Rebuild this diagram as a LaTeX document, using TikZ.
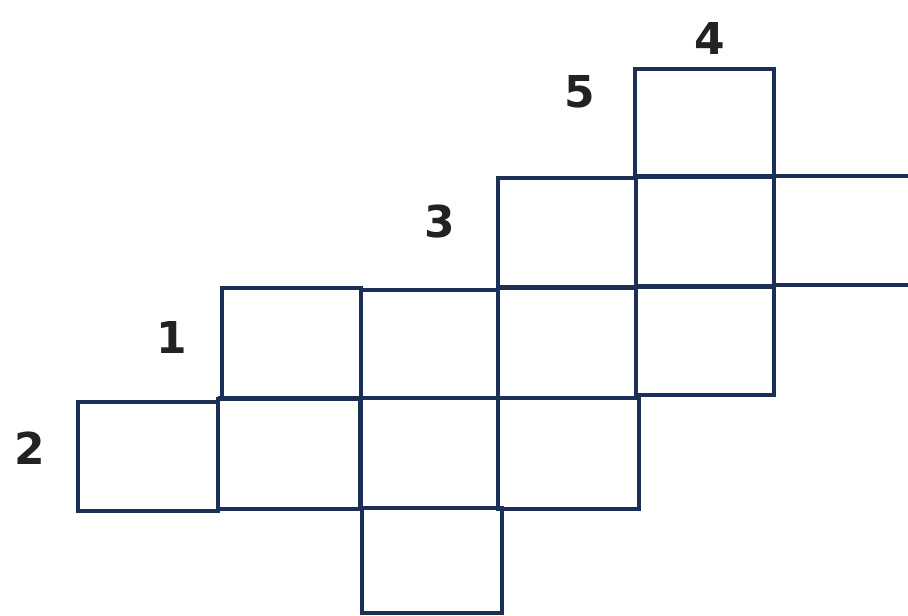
\documentclass[tikz,border=0pt]{standalone}
\usepackage{fontspec}
\setmainfont{DejaVu Sans}
\usepackage{xcolor}
\definecolor{gridblue}{HTML}{1B2F57}
\definecolor{numgray}{HTML}{222222}

\begin{document}
\begin{tikzpicture}[x=0.02cm,y=-0.02cm,
    cellbox/.style={draw=gridblue,line width=1.8pt},
    sharededge/.style={draw=gridblue,line width=2.8pt},
    numlab/.style={text=numgray,font=\bfseries\fontsize{25}{27}\selectfont,inner sep=0pt}]
  \useasboundingbox (0,0) rectangle (908,615);
  % top cell
  \draw[cellbox] (635,69) rectangle (774,177);
  % second row
  \draw[cellbox] (498,178) rectangle (636,288);
  \draw[cellbox] (636,176) rectangle (774,286);
  \draw[cellbox] (774,176)--(910,176);
  \draw[cellbox] (774,285)--(910,285);
  % third row
  \draw[cellbox] (222,288) rectangle (361,398);
  \draw[cellbox] (361,290) rectangle (498,398);
  \draw[cellbox] (498,288) rectangle (636,398);
  \draw[cellbox] (636,286) rectangle (774,395);
  % fourth row
  \draw[cellbox] (78,402) rectangle (218,511);
  \draw[cellbox] (218,399) rectangle (361,509);
  \draw[cellbox] (360,398) rectangle (498,508);
  \draw[cellbox] (498,398) rectangle (639,509);
  % bottom cell
  \draw[cellbox] (362,508) rectangle (502,613);
  % heavier shared edges
  \draw[sharededge] (636,177)--(774,177);
  \draw[sharededge] (636,176)--(636,286);
  \draw[sharededge] (498,287)--(774,287);
  \draw[sharededge] (498,288)--(498,398);
  \draw[sharededge] (218,398)--(636,398);
  \draw[sharededge] (218,400)--(218,511);
  \draw[sharededge] (362,508)--(498,508);
  % numbers
  \node[numlab] (n1) at (172,337) {1};
  \node[numlab] (n2) at (30,448) {2};
  \node[numlab] (n3) at (440,222) {3};
  \node[numlab] (n4) at (710,38) {4};
  \node[numlab] (n5) at (580,92) {5};
\end{tikzpicture}
\end{document}
